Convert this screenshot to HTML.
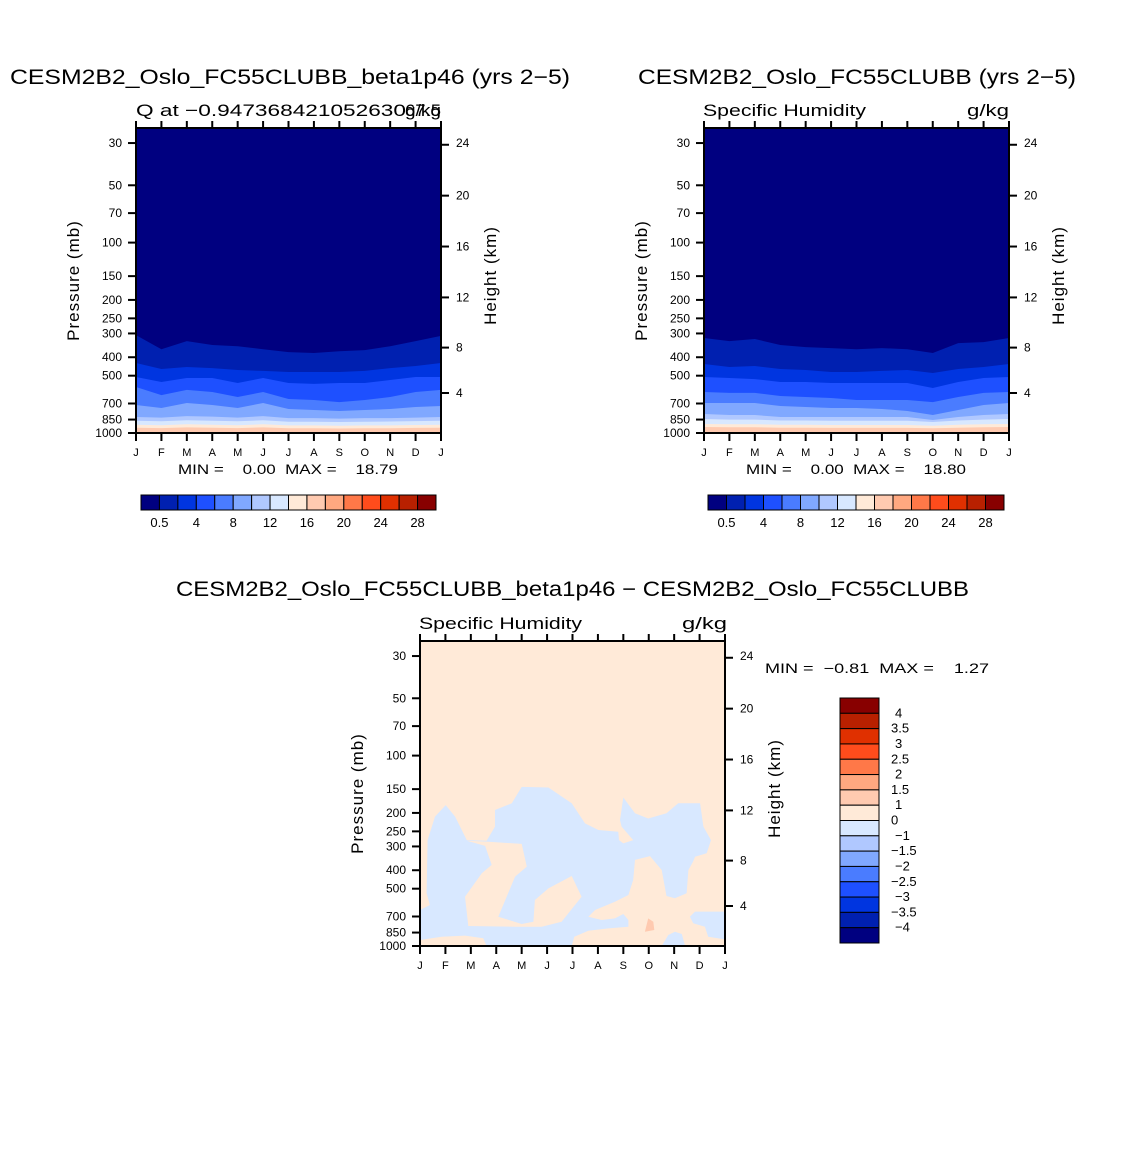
<!DOCTYPE html>
<html><head><meta charset="utf-8"><style>
html,body{margin:0;padding:0;background:#fff;}
svg text{font-family:"Liberation Sans",sans-serif;fill:#000;}
.pre{white-space:pre;}
</style></head><body>
<svg id="fig" width="1146" height="1146" viewBox="0 0 1146 1146" xmlns="http://www.w3.org/2000/svg"></svg>
<script>
const months = ["J","F","M","A","M","J","J","A","S","O","N","D","J"];
const pressureTicks = [30,50,70,100,150,200,250,300,400,500,700,850,1000];
const heightTicks = [4,8,12,16,20,24];
const qLevels = [0.5,2,4,6,8,10,12,14,16];
const qColors = ["#000080","#0020b0","#0035e0","#1e50ff","#4a7cff","#80a8ff","#b0c8ff","#d8e8ff","#ffead8","#ffcab0","#ffa880","#ff7848","#ff4c1c","#e03000","#b82000","#880000"];
const qCbarLabels = ["","0.5","","4","","8","","12","","16","","20","","24","","28"];
const diffCbarLabels = ["4","3.5","3","2.5","2","1.5","1","0","\u22121","\u22121.5","\u22122","\u22122.5","\u22123","\u22123.5","\u22124"];
const contoursA = [
 [306,363,329,345,350,363,376,380,372,367,350,329,309],
 [429,461,450,456,467,472,478,478,478,472,456,445,429],
 [508,540,514,514,546,514,546,552,546,546,527,508,508],
 [573,632,594,609,647,609,663,671,688,671,647,609,594],
 [713,739,696,713,739,696,748,757,766,757,748,730,721],
 [824,830,815,820,830,815,835,835,840,835,835,830,824],
 [862,868,858,862,868,858,872,872,875,872,870,866,862],
 [905,910,900,905,910,900,912,912,915,912,912,908,905],
 [938,942,935,938,942,935,945,945,947,945,945,940,938]
];
const contoursB = [
 [317,329,321,345,354,358,363,358,363,380,337,333,317],
 [434,450,445,461,467,478,478,472,467,484,461,450,434],
 [508,514,521,540,540,546,546,546,546,580,540,514,508],
 [609,616,616,639,647,655,671,671,671,688,647,616,609],
 [696,696,696,721,730,739,739,748,766,804,757,713,696],
 [795,804,804,824,824,824,824,824,824,855,824,804,795],
 [844,850,850,860,860,862,862,862,862,875,860,850,844],
 [897,900,900,905,905,908,908,908,908,915,905,900,897],
 [930,932,932,938,938,940,940,940,940,945,938,932,930]
];
const diffNegRegion = [[0,1000],[0,647],[0.39,609],[0.26,529],[0.3,278],[0.59,209],[1.01,182],[1.38,209],[1.84,278],[2.62,280],[2.95,236],[2.95,193],[3.61,178],[4.0,146],[5.05,147],[5.97,178],[6.49,227],[7.02,246],[7.8,251],[7.83,278],[8.0,289],[8.39,278],[7.93,236],[7.87,218],[8.0,166],[8.46,201],[8.98,214],[9.7,201],[10.16,178],[11.02,178],[11.15,236],[11.45,278],[11.28,326],[10.82,340],[10.62,399],[10.62,647],[12,660],[12,1000]];
const diffPosBay = [[1.84,280],[2.62,283],[4.0,291],[4.2,383],[3.74,432],[3.08,702],[4.0,766],[4.46,745],[4.52,573],[5.05,498],[5.97,429],[6.36,551],[5.57,745],[4.79,792],[3.74,792],[1.9,785],[1.77,551],[2.43,415],[2.82,375],[2.56,298]];
const diffPosBottomLeft = [[0,1000],[0,930],[0.85,894],[1.77,882],[2.49,911],[2.62,1000]];
const diffPosRight = [[5.97,1000],[6.07,894],[6.62,831],[7.41,808],[8.2,792],[8.2,730],[8.0,679],[7.67,716],[7.15,730],[6.62,702],[6.89,647],[7.67,585],[8.2,540],[8.39,450],[8.46,353],[9.05,337],[9.51,399],[9.7,546],[10.03,562],[10.49,529],[10.56,399],[10.82,346],[11.28,326],[12,326],[12,660],[10.82,660],[10.62,702],[10.75,760],[11.21,792],[11.34,894],[12,923],[12,1000],[10.43,1000],[10.3,865],[10.03,841],[9.77,875],[9.51,1000]];
const diffPosSpot = [[8.85,841],[8.98,716],[9.18,745],[9.22,824]];

const NS="http://www.w3.org/2000/svg";
const svg=document.getElementById('fig');
function mk(tag,attrs,parent,text){const e=document.createElementNS(NS,tag);for(const k in attrs)e.setAttribute(k,attrs[k]);if(text!==undefined)e.textContent=text;(parent||svg).appendChild(e);return e;}
const W=305,H=305,DEC=190.4;
function xS(x0,m){return x0+m*W/12;}
function yS(y0,p){return y0+H-DEC*Math.log10(1000/p);}
function hToP(h){h*=1000;if(h<=11000)return 1013.25*Math.pow(1-2.25577e-5*h,5.25588);return 226.32*Math.exp(-(h-11000)/6500);}

function axes(x0,y0,g){
  const frame=mk('rect',{x:x0,y:y0,width:W,height:H,fill:'none',stroke:'#000','stroke-width':2},g);
  
  months.forEach((m,i)=>{const x=xS(x0,i);
    mk('line',{x1:x,x2:x,y1:y0+H,y2:y0+H+8,stroke:'#000','stroke-width':2},g);
    mk('line',{x1:x,x2:x,y1:y0,y2:y0-7,stroke:'#000','stroke-width':2},g);
    const t=mk('text',{x:x,y:y0+H+23,'font-size':11,'text-anchor':'middle'},g,m);
    });
  pressureTicks.forEach(p=>{const y=yS(y0,p);
    mk('line',{x1:x0-8,x2:x0,y1:y,y2:y,stroke:'#000','stroke-width':2},g);
    const t=mk('text',{x:x0-14,y:y+4,'font-size':12,'text-anchor':'end'},g,p);
    });
  heightTicks.forEach(h=>{const y=yS(y0,hToP(h));
    mk('line',{x1:x0+W,x2:x0+W+8,y1:y,y2:y,stroke:'#000','stroke-width':2},g);
    const t=mk('text',{x:x0+W+15,y:(h===24?y+2:y+4),'font-size':12},g,h);
    });
  const py=y0+H/2;
  const tp=mk('text',{x:0,y:0,'font-size':17,'text-anchor':'middle',transform:`translate(${x0-57},${py}) rotate(-90)`,'letter-spacing':1},g,'Pressure (mb)');
  
  const th=mk('text',{x:0,y:0,'font-size':17,'text-anchor':'middle',transform:`translate(${x0+W+55},${py-5}) rotate(-90)`,'letter-spacing':1},g,'Height (km)');
  
}
function contourPanel(x0,y0,data,name){
  const g=mk('g',{});
  const id='c'+x0+'_'+y0;
  const cp=mk('clipPath',{id:id},g);mk('rect',{x:x0,y:y0,width:W,height:H},cp);
  const fg=mk('g',{'clip-path':'url(#'+id+')'},g);
  mk('rect',{x:x0,y:y0,width:W,height:H,fill:qColors[qLevels.length]},fg);
  for(let k=qLevels.length-1;k>=0;k--){
    let d=`M${x0},${y0-5} `;
    data[k].forEach((p,i)=>{d+=`L${xS(x0,i).toFixed(1)},${yS(y0,p).toFixed(1)} `;});
    d+=`L${x0+W},${y0-5}Z`;
    const b=mk('path',{d:d,fill:qColors[k]},fg);
    
  }
  axes(x0,y0,g);
}
function hBar(x,y,w,h,name){
  const g=mk('g',{});
  const bw=w/qColors.length;
  qColors.forEach((c,i)=>{const r=mk('rect',{x:x+i*bw,y:y,width:bw,height:h,fill:c,stroke:'#000','stroke-width':1},g);
    
    if(qCbarLabels[i]){const t=mk('text',{x:x+i*bw,y:y+h+17,'font-size':13,'text-anchor':'middle'},g,qCbarLabels[i]);
      }});
}
function txt(x,y,s,fs,name,anchor,len){const a={x:x,y:y,'font-size':fs};if(anchor)a['text-anchor']=anchor;if(len){a.textLength=len;a.lengthAdjust='spacingAndGlyphs';}
  const t=mk('text',a,svg,s);return t;}

txt(10,84,'CESM2B2_Oslo_FC55CLUBB_beta1p46 (yrs 2\u22125)',21,'title-left',null,560);
txt(638,84,'CESM2B2_Oslo_FC55CLUBB (yrs 2\u22125)',21,'title-right',null,438);
txt(136,116,'Q at \u22120.947368421052630',17,'subtitle-left',null,270);
txt(441,116,'67.5',17,'subtitle-center','end',36);
txt(441,116,'g/kg',17,'units-left','end',36);
txt(703,116,'Specific Humidity',17,'subtitle-right',null,163);
txt(1009,116,'g/kg',17,'units-right','end',42);

contourPanel(136,128,contoursA,'panel-beta1p46');
contourPanel(704,128,contoursB,'panel-control');
txt(178,474,'MIN =    0.00  MAX =    18.79',14,'minmax-left',null,220).setAttribute('class','pre');
txt(746,474,'MIN =    0.00  MAX =    18.80',14,'minmax-right',null,220).setAttribute('class','pre');
hBar(141,495,295,15,'colorbar-left');
hBar(708,495,296,15,'colorbar-right');

txt(176,596,'CESM2B2_Oslo_FC55CLUBB_beta1p46 \u2212 CESM2B2_Oslo_FC55CLUBB',21,'title-diff',null,793);
txt(419,629,'Specific Humidity',17,'subtitle-diff',null,163);
txt(727,629,'g/kg',17,'units-diff','end',45);
(function(){
  const x0=420,y0=641;
  const g=mk('g',{});
  const cp=mk('clipPath',{id:'cdiff'},g);mk('rect',{x:x0,y:y0,width:W,height:H},cp);
  const fg=mk('g',{'clip-path':'url(#cdiff)'},g);
  mk('rect',{x:x0,y:y0,width:W,height:H,fill:'#ffead8'},fg);
  function poly(pts,fill,name){const d='M'+pts.map(q=>xS(x0,q[0]).toFixed(1)+','+yS(y0,q[1]).toFixed(1)).join(' L')+'Z';
    const e=mk('path',{d:d,fill:fill},fg);}
  poly(diffNegRegion,'#d8e8ff','negative-region');
  poly(diffPosBay,'#ffead8','positive-region');
  poly(diffPosBottomLeft,'#ffead8','positive-region');
  poly(diffPosRight,'#ffead8','positive-region');
  poly(diffPosSpot,'#ffcab0','positive-spot');
  axes(x0,y0,g);
})();
txt(765,673,'MIN =  \u22120.81  MAX =    1.27',14,'minmax-diff',null,224).setAttribute('class','pre');
(function(){
  const g=mk('g',{});
  const x=840,y=698,w=39,h=245,bh=h/qColors.length;
  for(let i=0;i<qColors.length;i++){
    const r=mk('rect',{x:x,y:y+i*bh,width:w,height:bh,fill:qColors[qColors.length-1-i],stroke:'#000','stroke-width':1},g);
    }
  diffCbarLabels.forEach((s,i)=>{const yy=y+(i+1)*bh;const xx=(i%2===0)?895:891;
    const t=mk('text',{x:xx,y:yy+4,'font-size':13},g,s);
    });
})();
</script>
</body></html>
